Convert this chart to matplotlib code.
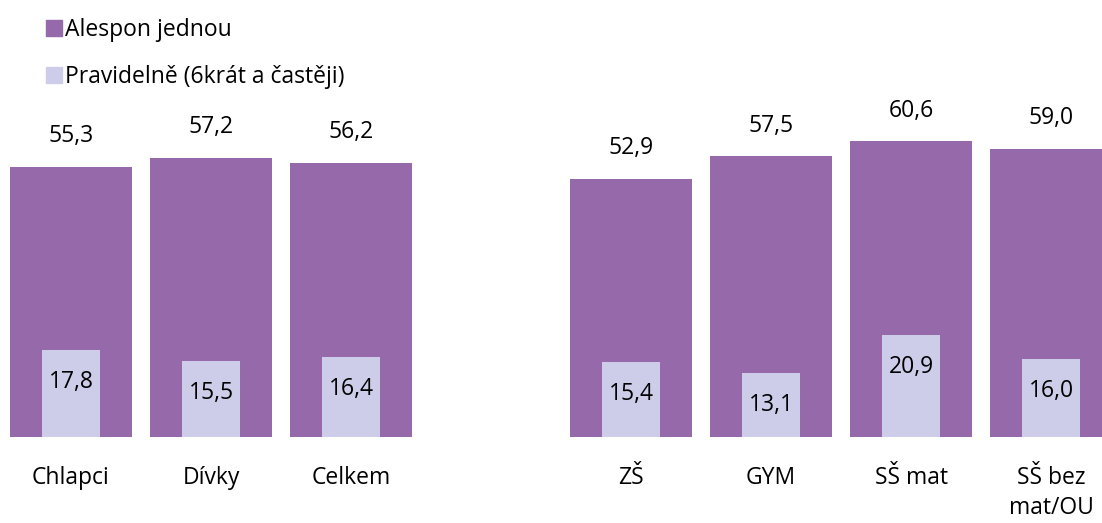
import numpy as np
import matplotlib.pyplot as plt
from matplotlib.patches import Patch

plt.rcParams['font.family'] = ['Open Sans', 'DejaVu Sans']

categories = ['Chlapci', 'Dívky', 'Celkem', 'ZŠ', 'GYM', 'SŠ mat', 'SŠ bez\nmat/OU']
positions = [0, 1, 2, 4, 5, 6, 7]
alespon = [55.3, 57.2, 56.2, 52.9, 57.5, 60.6, 59.0]
pravidelne = [17.8, 15.5, 16.4, 15.4, 13.1, 20.9, 16.0]

purple = '#9669AA'
lavender = '#CDCDEA'

fig = plt.figure(figsize=(11.02, 5.23), dpi=100)
ax = fig.add_axes([0, 86 / 523, 1, 437 / 523])

x = np.array(positions)
ax.bar(x, alespon, width=0.871, color=purple)
ax.bar(x, pravidelne, width=0.414, color=lavender)

for xi, v in zip(x, alespon):
    ax.annotate(f'{v:.1f}'.replace('.', ','), (xi, v), xytext=(0, 22),
                textcoords='offset points', ha='center', va='center', fontsize=16.5)
for xi, v in zip(x, pravidelne):
    ax.annotate(f'{v:.1f}'.replace('.', ','), (xi, v), xytext=(0, -23),
                textcoords='offset points', ha='center', va='center', fontsize=16.5)

ax.set_xlim(-0.507, 7.364)
ax.set_ylim(0, 89.5)
ax.set_xticks(x)
ax.set_xticklabels(categories, fontsize=16.5, linespacing=1.35)
ax.tick_params(axis='x', length=0, pad=21)
ax.set_yticks([])
for s in ax.spines.values():
    s.set_visible(False)

handles = [Patch(color=purple, label='Alespon jednou'),
           Patch(color=lavender, label='Pravidelně (6krát a častěji)')]
fig.legend(handles=handles, loc='upper left', bbox_to_anchor=(0.029, 0.992),
           frameon=False, fontsize=16.5, handlelength=0.7, handleheight=0.7,
           handletextpad=0.15, labelspacing=1.0, borderaxespad=0.2)

fig.savefig('out.png', dpi=100)
